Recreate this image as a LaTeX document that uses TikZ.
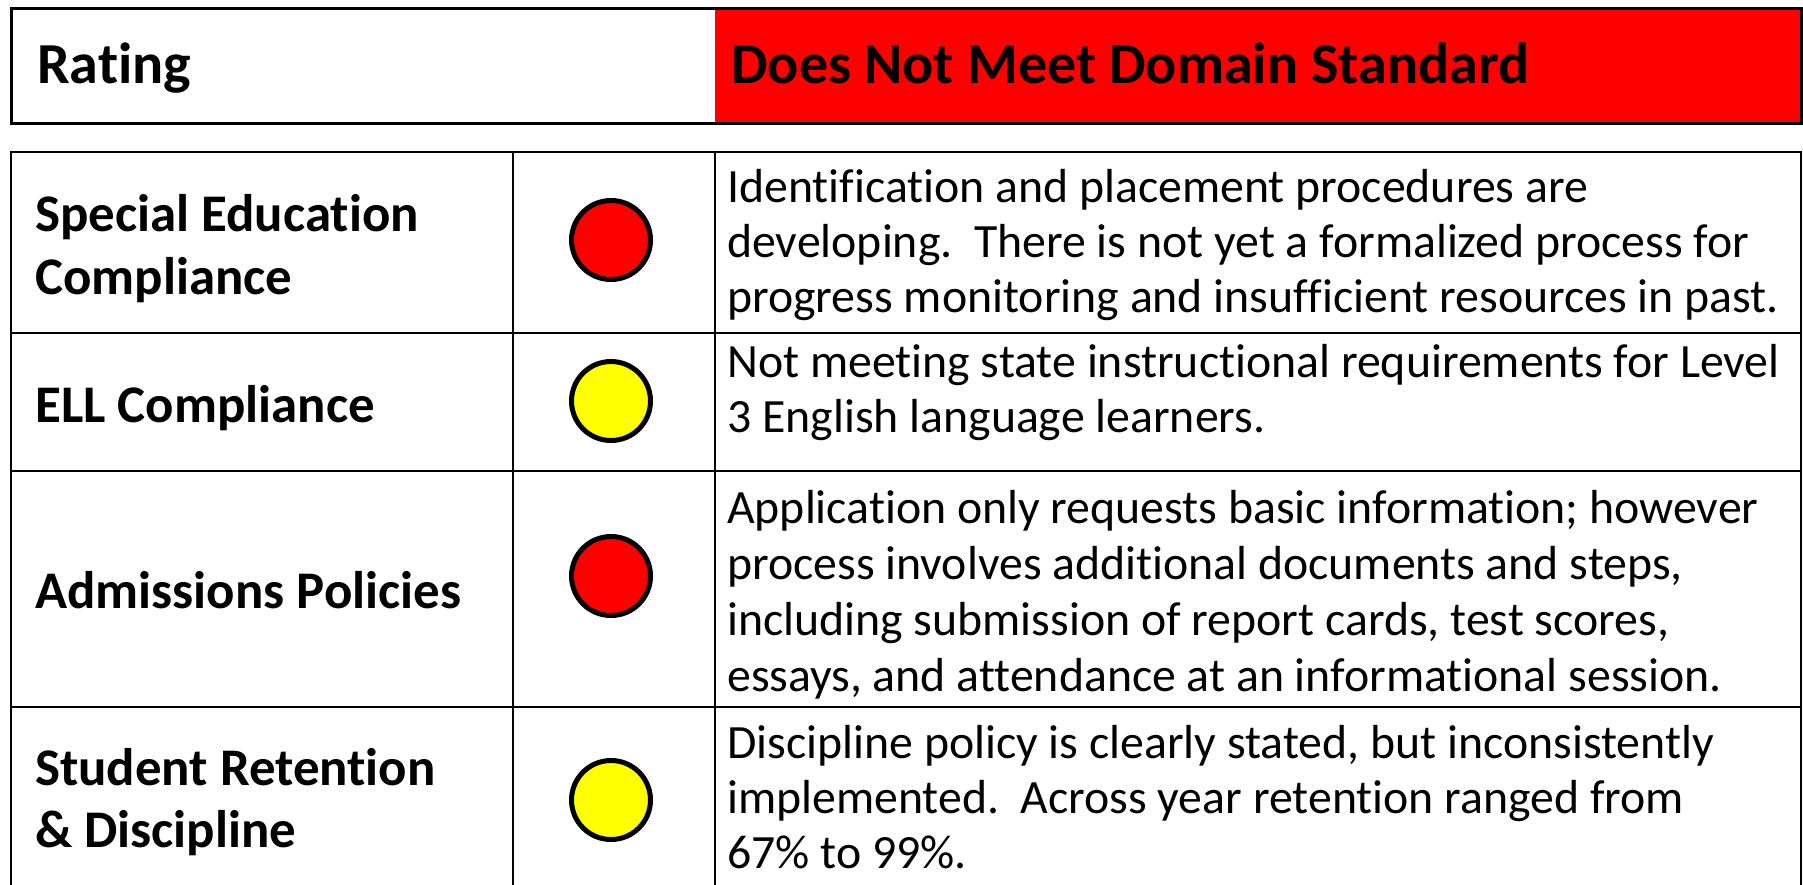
\documentclass[tikz,border=0pt]{standalone}
\usepackage{fontspec}
\setmainfont{Carlito}[Ligatures={NoCommon,NoContextual,NoRare},Contextuals={NoAlternate}]
\definecolor{hred}{RGB}{255,0,0}
\definecolor{hyel}{RGB}{255,255,0}
\newlength\mywA
\newlength\mywB
\newlength\mywC
\AtBeginDocument{%
\settowidth\mywA{\fontsize{10pt}{12pt}\selectfont\bfseries Admissions Policies}%
\pgfmathsetmacro\mylsz{10*426/\mywA}%
\settowidth\mywB{\fontsize{10pt}{12pt}\selectfont progress monitoring and insufficient resources in past.}%
\pgfmathsetmacro\mybsz{10*1052/\mywB}%
\settowidth\mywC{\fontsize{10pt}{12pt}\selectfont\bfseries Does Not Meet Domain Standard}%
\pgfmathsetmacro\myhsz{10*798/\mywC}%
}
\begin{document}
\begin{tikzpicture}[x=1pt,y=-1pt]
\tikzset{
  lab/.style={font=\fontsize{\mylsz pt}{\mylsz pt}\selectfont\bfseries, anchor=base west, inner sep=0pt},
  head/.style={font=\fontsize{\myhsz pt}{\myhsz pt}\selectfont\bfseries, anchor=base west, inner sep=0pt},
  body/.style={font=\fontsize{\mybsz pt}{\mybsz pt}\selectfont, anchor=base west, inner sep=0pt},
  grid/.style={line width=2.4pt},
  dot/.style={circle, draw=black, line width=5pt, minimum size=79pt, inner sep=0pt},
}
\useasboundingbox (0,0) rectangle (1803,884);
% header
\fill[hred] (715,8) rectangle (1801,123);
\draw[line width=3pt] (11,8) rectangle (1801,123);
\node[head] (hrating) at (37,83) {Rating};
\node[head] (hstd) at (731,83) {Does Not Meet Domain Standard};
% table grid
\coordinate (tl) at (11,152);
\coordinate (tr) at (1801,152);
\draw[grid] (11,920) -- (tl) -- (tr) -- (1801,920);
\draw[grid] (513,152) -- (513,920);
\draw[grid] (715,152) -- (715,920);
\draw[grid] (11,333) -- (1801,333);
\draw[grid] (11,471) -- (1801,471);
\draw[grid] (11,707) -- (1801,707);
% circles
\node[dot, fill=hred] (c1) at (611,240) {};
\node[dot, fill=hyel] (c2) at (611,401) {};
\node[dot, fill=hred] (c3) at (611,576) {};
\node[dot, fill=hyel] (c4) at (611,800) {};
% labels
\node[lab] (l1a) at (35,231) {Special Education};
\node[lab] (l1b) at (35,294) {Compliance};
\node[lab] (l2) at (35,422) {ELL Compliance};
\node[lab] (l3) at (35,608) {Admissions Policies};
\node[lab] (l4a) at (35,785) {Student Retention};
\node[lab] (l4b) at (35,847) {\& Discipline};
% descriptions
\node[body] (d1a) at (727,202) {Identification and placement procedures are};
\node[body] (d1b) at (727,257) {developing.\ \ There is not yet a formalized process for};
\node[body] (d1c) at (727,312) {progress monitoring and insufficient resources in past.};
\node[body] (d2a) at (727,377) {Not meeting state instructional requirements for Level};
\node[body] (d2b) at (727,432) {3 English language learners.};
\node[body] (d3a) at (727,523) {Application only requests basic information; however};
\node[body] (d3b) at (727,579) {process involves additional documents and steps,};
\node[body] (d3c) at (727,635) {including submission of report cards, test scores,};
\node[body] (d3d) at (727,691) {essays, and attendance at an informational session.};
\node[body] (d4a) at (727,758) {Discipline policy is clearly stated, but inconsistently};
\node[body] (d4b) at (727,813) {implemented.\ \ Across year retention ranged from};
\node[body] (d4c) at (727,868) {67\% to 99\%.};
\end{tikzpicture}
\end{document}
